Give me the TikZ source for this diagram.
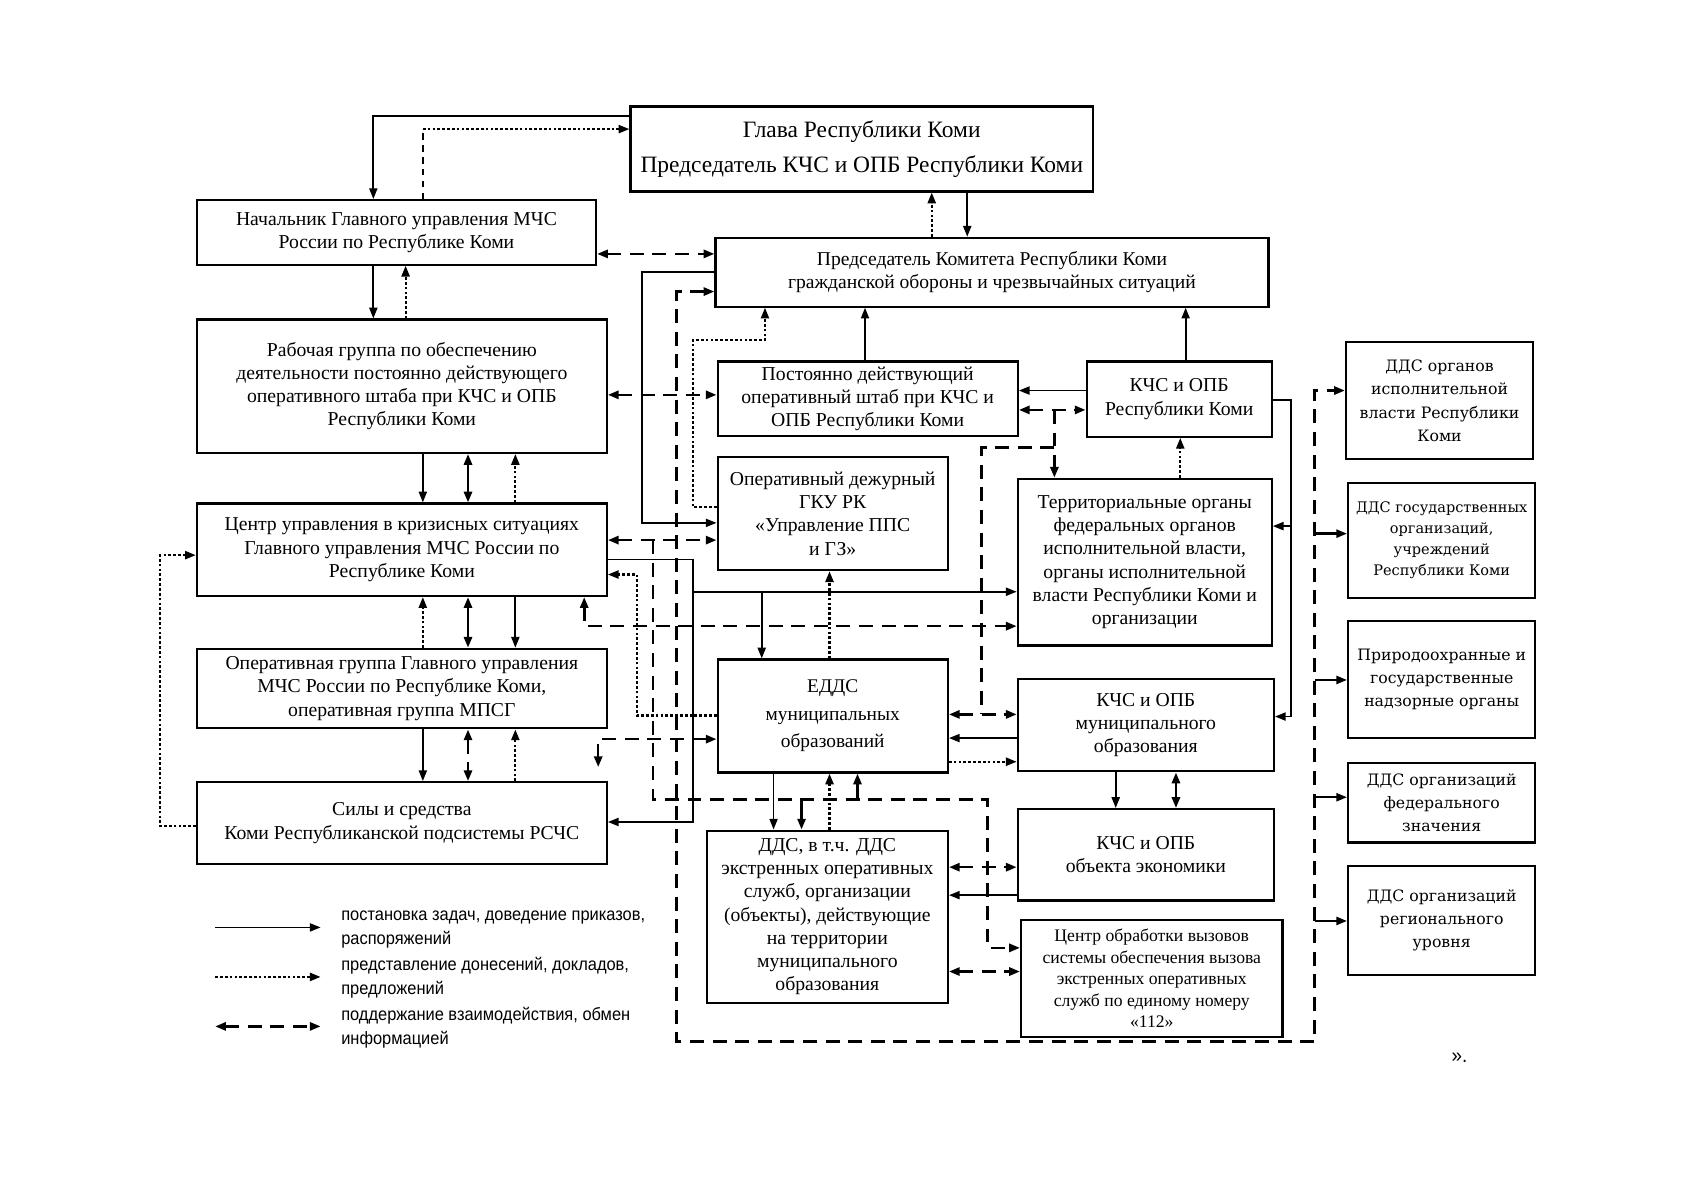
\documentclass[tikz,border=0pt]{standalone}
\usepackage{fontspec}
\setmainfont{Liberation Serif}
\newfontfamily\rfont{DejaVu Serif}
\newfontfamily\lfont[FakeStretch=0.92]{Liberation Sans}
\usetikzlibrary{arrows.meta}
\begin{document}
\begin{tikzpicture}[x=1pt,y=-1pt,
  >={Triangle[length=10pt,width=7.5pt]},
  box/.style={draw,line width=2pt,align=center,inner sep=0pt,font=\fontsize{18.3}{21.5}\selectfont},
  rbox/.style={box,font=\rfont\fontsize{14.6}{21.5}\selectfont},
  sol/.style={line width=1.7pt,->},
  solb/.style={line width=2.4pt,<->},
  solt/.style={line width=2.2pt,->},
  dot/.style={line width=2pt,dash pattern=on 2.5pt off 2pt,->},
  dshl/.style={line width=2.4pt,dash pattern=on 13pt off 8pt},
  dsh/.style={dshl,<->},
  legtxt/.style={anchor=west,align=left,inner sep=0pt,font=\lfont\fontsize{16.6}{22.5}\selectfont}
]
\useasboundingbox (0,0) rectangle (1568,1115);
% boxes
\node[box,minimum width=430pt,minimum height=79pt,font=\fontsize{21.8}{32}\selectfont] (A) at (801,138.5) {Глава Республики Коми\\Председатель КЧС и ОПБ Республики Коми};
\node[box,minimum width=371pt,minimum height=60pt] (B) at (368.5,216) {Начальник Главного управления МЧС\\России по Республике Коми};
\node[box,minimum width=514pt,minimum height=64pt,font=\fontsize{18.2}{22}\selectfont] (C) at (922,253) {Председатель Комитета Республики Коми\\гражданской обороны и чрезвычайных ситуаций};
\node[box,minimum width=381pt,minimum height=124pt] (D) at (373.5,359) {Рабочая группа по обеспечению\\деятельности постоянно действующего\\оперативного штаба при КЧС и ОПБ\\Республики Коми};
\node[box,minimum width=279pt,minimum height=69pt] (E) at (806.5,370.5) {Постоянно действующий\\оперативный штаб при КЧС и\\ОПБ Республики Коми};
\node[box,minimum width=172pt,minimum height=70pt] (F) at (1096,371) {КЧС и ОПБ\\Республики Коми};
\node[box,minimum width=214pt,minimum height=105pt] (G) at (774,477.5) {Оперативный дежурный\\ГКУ РК\\«Управление ППС\\и ГЗ»};
\node[box,minimum width=236pt,minimum height=155pt] (H) at (1064,522.5) {Территориальные органы\\федеральных органов\\исполнительной власти,\\органы исполнительной\\власти Республики Коми и\\организации};
\node[box,minimum width=381pt,minimum height=86pt] (I) at (373.5,511) {Центр управления в кризисных ситуациях\\Главного управления МЧС России по\\Республике Коми};
\node[box,minimum width=381pt,minimum height=74pt] (J) at (373.5,640) {Оперативная группа Главного управления\\МЧС России по Республике Коми,\\оперативная группа МПСГ};
\node[box,minimum width=214pt,minimum height=105pt,font=\fontsize{18}{25.5}\selectfont] (K) at (774,665.5) {ЕДДС\\муниципальных\\образований};
\node[box,minimum width=238pt,minimum height=86pt] (L) at (1065,674) {КЧС и ОПБ\\муниципального\\образования};
\node[box,minimum width=381pt,minimum height=76pt] (M) at (373.5,765) {Силы и средства\\Коми Республиканской подсистемы РСЧС};
\node[box,minimum width=224pt,minimum height=160pt] (N) at (769,852) {ДДС, в т.ч. ДДС\\экстренных оперативных\\служб, организации\\(объекты), действующие\\на территории\\муниципального\\образования};
\node[box,minimum width=238pt,minimum height=85pt] (O) at (1065,794.5) {КЧС и ОПБ\\объекта экономики};
\node[box,minimum width=243pt,minimum height=109pt,font=\fontsize{16.4}{20}\selectfont] (P) at (1070.5,909.5) {Центр обработки вызовов\\системы обеспечения вызова\\экстренных оперативных\\служб по единому номеру\\«112»};
\node[rbox,minimum width=174pt,minimum height=109pt] (R1) at (1338,372.5) {ДДС органов\\исполнительной\\власти Республики\\Коми};
\node[rbox,minimum width=174pt,minimum height=107pt,font=\rfont\fontsize{13.5}{19.5}\selectfont] (R2) at (1340,502.5) {ДДС государственных\\организаций,\\учреждений\\Республики Коми};
\node[rbox,minimum width=174pt,minimum height=109pt] (R3) at (1340,631.5) {Природоохранные и\\государственные\\надзорные органы};
\node[rbox,minimum width=174pt,minimum height=74pt] (R4) at (1340,746) {ДДС организаций\\федерального\\значения};
\node[rbox,minimum width=174pt,minimum height=101pt] (R5) at (1340,855.5) {ДДС организаций\\регионального\\уровня};
% free points
\coordinate (mtip) at (556,713);
\coordinate (ef) at (980,381);
\coordinate (ef2) at (980,416);
\coordinate (ig) at (607,502);
% top
\draw[sol] (A.west |- 0,108) -| (347,0 |- B.north);
\draw[line width=2pt,dash pattern=on 6pt off 5pt] (393,0 |- B.north) -- (393,120);
\draw[dot] (393,120) -- (A.west |- 0,120);
\draw[dsh] (B.east |- 0,236) -- (C.west |- 0,236);
\draw[dot] (866,0 |- C.north) -- (866,0 |- A.south);
\draw[sol] (899,0 |- A.south) -- (899,0 |- C.north);
\draw[sol] (347,0 |- B.south) -- (347,0 |- D.north);
\draw[dot] (377,0 |- D.north) -- (377,0 |- B.south);
% Komitet links
\draw[sol] (C.west |- 0,253) -| (597,486) -- (G.west |- 0,486);
\draw[dsh] (C.west |- 0,271) -| (629,968) -| (1222,363) -- (R1.west |- 0,363);
\draw[solt] (1222,496) -- (R2.west |- 0,496);
\draw[solt] (1222,632) -- (R3.west |- 0,632);
\draw[solt] (1222,741) -- (R4.west |- 0,741);
\draw[solt] (1222,856) -- (R5.west |- 0,856);
\draw[dsh] (D.east |- 0,367) -- (E.west |- 0,367);
\draw[dot] (G.west |- 0,471) -| (644,316) -| (711,0 |- C.south);
\draw[sol] (804,0 |- E.north) -- (804,0 |- C.south);
\draw[sol] (1102,0 |- F.north) -- (1102,0 |- C.south);
% E - F - H - L
\draw[sol] (F.west |- 0,363) -- (E.east |- 0,363);
\draw[dsh] (E.east |- 0,381) -- (F.west |- 0,381);
\draw[dshl,->] (ef) -- (980,0 |- H.north);
\draw[dshl] (ef2) -| (912,664);
\draw[dsh] (K.east |- 0,664) -- (L.west |- 0,664);
\draw[sol] (L.west |- 0,686) -- (K.east |- 0,686);
\draw[dot] (K.east |- 0,708) -- (L.west |- 0,708);
\draw[sol] (F.east |- 0,372) -| (1200,666) -- (L.east |- 0,666);
\draw[sol] (1200,489) -- (H.east |- 0,489);
\draw[dot] (1097,0 |- H.north) -- (1097,0 |- F.south);
% left column
\draw[sol] (393,0 |- D.south) -- (393,0 |- I.north);
\draw[solb] (435,0 |- D.south) -- (435,0 |- I.north);
\draw[dot] (479,0 |- I.north) -- (479,0 |- D.south);
\draw[dot] (393,0 |- J.north) -- (393,0 |- I.south);
\draw[solb] (435,0 |- I.south) -- (435,0 |- J.north);
\draw[sol] (479,0 |- I.south) -- (479,0 |- J.north);
\draw[sol] (393,0 |- J.south) -- (393,0 |- M.north);
\draw[dsh] (435,0 |- J.south) -- (435,0 |- M.north);
\draw[dot] (479,0 |- M.north) -- (479,0 |- J.south);
\draw[dot] (M.west |- 0,768) -| (149,516) -- (I.west |- 0,516);
% centre
\draw[dsh] (I.east |- 0,502) -- (G.west |- 0,502);
\draw[sol] (I.east |- 0,520) -| (644,764) -- (M.east |- 0,764);
\draw[sol] (644,550) -- (H.west |- 0,550);
\draw[sol] (708,550) -- (708,0 |- K.north);
\draw[dsh] (543,0 |- I.south) |- (H.west |- 0,582);
\draw[dot] (K.west |- 0,665) -| (592,534) -- (I.east |- 0,534);
\draw[dsh] (K.west |- 0,687) -| (mtip);
\draw[dshl,->] (ig) -- (607,743) -| (918,881) -- (P.west |- 0,881);
\draw[solt] (745,743) -- (745,0 |- N.north);
\draw[solt] (797,743) -- (797,0 |- K.south);
\draw[sol] (719,0 |- K.south) -- (719,0 |- N.north);
\draw[dot] (771,0 |- N.north) -- (771,0 |- K.south);
\draw[dot] (771,0 |- K.north) -- (771,0 |- G.south);
% lower right
\draw[sol] (1037,0 |- L.south) -- (1037,0 |- O.north);
\draw[solb] (1093,0 |- L.south) -- (1093,0 |- O.north);
\draw[dsh] (N.east |- 0,806) -- (O.west |- 0,806);
\draw[sol] (O.west |- 0,832) -- (N.east |- 0,832);
\draw[dsh] (N.east |- 0,903) -- (P.west |- 0,903);
% legend
\coordinate (l1a) at (200,862); \coordinate (l1b) at (298,862);
\coordinate (l2a) at (200,908); \coordinate (l2b) at (298,908);
\coordinate (l3a) at (200,954); \coordinate (l3b) at (298,954);
\draw[sol] (l1a) -- (l1b);
\draw[dot] (l2a) -- (l2b);
\draw[dsh] (l3a) -- (l3b);
\node[legtxt] (t1) at (317,864) {постановка задач, доведение приказов,\\распоряжений};
\node[legtxt] (t2) at (317,909) {представление донесений, докладов,\\предложений};
\node[legtxt] (t3) at (317,955) {поддержание взаимодействия, обмен\\информацией};
\node[legtxt,font=\lfont\fontsize{19}{22}\selectfont] (q) at (1349,983) {».};
\end{tikzpicture}
\end{document}
